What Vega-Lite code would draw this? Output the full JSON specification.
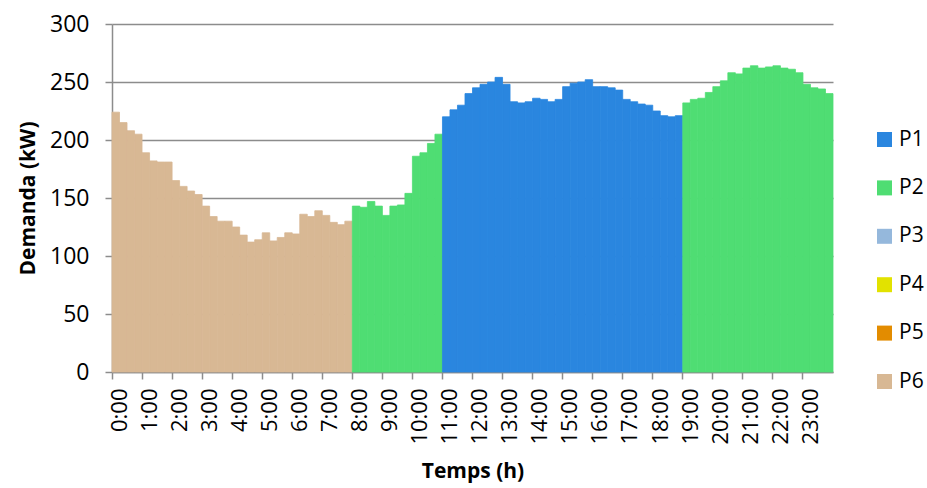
{
  "$schema": "https://vega.github.io/schema/vega-lite/v6.json",
  "autosize": "none",
  "width": 721,
  "height": 348,
  "padding": {"left": 112, "top": 24, "right": 94, "bottom": 116},
  "background": "white",
  "config": {
    "view": {"stroke": null},
    "font": "Open Sans"
  },
  "data": {
    "values": [
      {"t": "0:00", "v": 224, "p": "P6"}, {"t": "0:15", "v": 215, "p": "P6"}, {"t": "0:30", "v": 208, "p": "P6"}, {"t": "0:45", "v": 205, "p": "P6"},
      {"t": "1:00", "v": 189, "p": "P6"}, {"t": "1:15", "v": 182, "p": "P6"}, {"t": "1:30", "v": 181, "p": "P6"}, {"t": "1:45", "v": 181, "p": "P6"},
      {"t": "2:00", "v": 165, "p": "P6"}, {"t": "2:15", "v": 160, "p": "P6"}, {"t": "2:30", "v": 156, "p": "P6"}, {"t": "2:45", "v": 153, "p": "P6"},
      {"t": "3:00", "v": 143, "p": "P6"}, {"t": "3:15", "v": 134, "p": "P6"}, {"t": "3:30", "v": 130, "p": "P6"}, {"t": "3:45", "v": 130, "p": "P6"},
      {"t": "4:00", "v": 125, "p": "P6"}, {"t": "4:15", "v": 118, "p": "P6"}, {"t": "4:30", "v": 112, "p": "P6"}, {"t": "4:45", "v": 114, "p": "P6"},
      {"t": "5:00", "v": 120, "p": "P6"}, {"t": "5:15", "v": 113, "p": "P6"}, {"t": "5:30", "v": 116, "p": "P6"}, {"t": "5:45", "v": 120, "p": "P6"},
      {"t": "6:00", "v": 119, "p": "P6"}, {"t": "6:15", "v": 136, "p": "P6"}, {"t": "6:30", "v": 134, "p": "P6"}, {"t": "6:45", "v": 139, "p": "P6"},
      {"t": "7:00", "v": 135, "p": "P6"}, {"t": "7:15", "v": 129, "p": "P6"}, {"t": "7:30", "v": 127, "p": "P6"}, {"t": "7:45", "v": 130, "p": "P6"},
      {"t": "8:00", "v": 143, "p": "P2"}, {"t": "8:15", "v": 142, "p": "P2"}, {"t": "8:30", "v": 147, "p": "P2"}, {"t": "8:45", "v": 143, "p": "P2"},
      {"t": "9:00", "v": 135, "p": "P2"}, {"t": "9:15", "v": 143, "p": "P2"}, {"t": "9:30", "v": 144, "p": "P2"}, {"t": "9:45", "v": 154, "p": "P2"},
      {"t": "10:00", "v": 186, "p": "P2"}, {"t": "10:15", "v": 189, "p": "P2"}, {"t": "10:30", "v": 197, "p": "P2"}, {"t": "10:45", "v": 205, "p": "P2"},
      {"t": "11:00", "v": 220, "p": "P1"}, {"t": "11:15", "v": 226, "p": "P1"}, {"t": "11:30", "v": 230, "p": "P1"}, {"t": "11:45", "v": 240, "p": "P1"},
      {"t": "12:00", "v": 245, "p": "P1"}, {"t": "12:15", "v": 248, "p": "P1"}, {"t": "12:30", "v": 250, "p": "P1"}, {"t": "12:45", "v": 254, "p": "P1"},
      {"t": "13:00", "v": 248, "p": "P1"}, {"t": "13:15", "v": 233, "p": "P1"}, {"t": "13:30", "v": 232, "p": "P1"}, {"t": "13:45", "v": 233, "p": "P1"},
      {"t": "14:00", "v": 236, "p": "P1"}, {"t": "14:15", "v": 235, "p": "P1"}, {"t": "14:30", "v": 233, "p": "P1"}, {"t": "14:45", "v": 235, "p": "P1"},
      {"t": "15:00", "v": 246, "p": "P1"}, {"t": "15:15", "v": 249, "p": "P1"}, {"t": "15:30", "v": 250, "p": "P1"}, {"t": "15:45", "v": 252, "p": "P1"},
      {"t": "16:00", "v": 246, "p": "P1"}, {"t": "16:15", "v": 246, "p": "P1"}, {"t": "16:30", "v": 245, "p": "P1"}, {"t": "16:45", "v": 243, "p": "P1"},
      {"t": "17:00", "v": 235, "p": "P1"}, {"t": "17:15", "v": 233, "p": "P1"}, {"t": "17:30", "v": 231, "p": "P1"}, {"t": "17:45", "v": 230, "p": "P1"},
      {"t": "18:00", "v": 225, "p": "P1"}, {"t": "18:15", "v": 221, "p": "P1"}, {"t": "18:30", "v": 220, "p": "P1"}, {"t": "18:45", "v": 221, "p": "P1"},
      {"t": "19:00", "v": 232, "p": "P2"}, {"t": "19:15", "v": 235, "p": "P2"}, {"t": "19:30", "v": 236, "p": "P2"}, {"t": "19:45", "v": 241, "p": "P2"},
      {"t": "20:00", "v": 246, "p": "P2"}, {"t": "20:15", "v": 251, "p": "P2"}, {"t": "20:30", "v": 258, "p": "P2"}, {"t": "20:45", "v": 257, "p": "P2"},
      {"t": "21:00", "v": 262, "p": "P2"}, {"t": "21:15", "v": 264, "p": "P2"}, {"t": "21:30", "v": 262, "p": "P2"}, {"t": "21:45", "v": 263, "p": "P2"},
      {"t": "22:00", "v": 264, "p": "P2"}, {"t": "22:15", "v": 262, "p": "P2"}, {"t": "22:30", "v": 261, "p": "P2"}, {"t": "22:45", "v": 258, "p": "P2"},
      {"t": "23:00", "v": 248, "p": "P2"}, {"t": "23:15", "v": 245, "p": "P2"}, {"t": "23:30", "v": 244, "p": "P2"}, {"t": "23:45", "v": 240, "p": "P2"}
    ]
  },
  "mark": {"type": "bar", "strokeWidth": 0.8},
  "encoding": {
    "x": {
      "field": "t",
      "type": "ordinal",
      "sort": null,
      "scale": {"paddingInner": 0, "paddingOuter": 0},
      "axis": {
        "title": "Temps (h)",
        "titleFont": "Open Sans",
        "titleFontSize": 21,
        "titleFontWeight": "bold",
        "titleColor": "black",
        "titlePadding": 16,
        "values": ["0:00","1:00","2:00","3:00","4:00","5:00","6:00","7:00","8:00","9:00","10:00","11:00","12:00","13:00","14:00","15:00","16:00","17:00","18:00","19:00","20:00","21:00","22:00","23:00"],
        "bandPosition": 0,
        "labelOffset": 4,
        "labelAngle": 270,
        "labelFontSize": 22,
        "labelColor": "black",
        "labelPadding": 9,
        "tickSize": 7,
        "tickColor": "#8c8c8c",
        "tickWidth": 1.5,
        "domainColor": "#8c8c8c",
        "domainWidth": 1.5,
        "grid": false
      }
    },
    "y": {
      "field": "v",
      "type": "quantitative",
      "scale": {"domain": [0, 300]},
      "axis": {
        "title": "Demanda (kW)",
        "titleFont": "Open Sans",
        "titleFontSize": 21,
        "titleFontWeight": "bold",
        "titleColor": "black",
        "titlePadding": 11,
        "values": [0, 50, 100, 150, 200, 250, 300],
        "labelFontSize": 23,
        "labelColor": "black",
        "labelPadding": 16,
        "tickSize": 7,
        "tickColor": "#8c8c8c",
        "tickWidth": 1.5,
        "domainColor": "#8c8c8c",
        "domainWidth": 1.5,
        "grid": true,
        "gridColor": "#8c8c8c",
        "gridWidth": 1.5
      }
    },
    "color": {
      "field": "p",
      "type": "nominal",
      "scale": {
        "domain": ["P1", "P2", "P3", "P4", "P5", "P6"],
        "range": ["#2a86df", "#4fdd73", "#95b8dc", "#e2e200", "#e38c00", "#d8b894"]
      },
      "legend": {
        "title": null,
        "orient": "none",
        "legendX": 762,
        "legendY": 105,
        "symbolType": "square",
        "symbolSize": 225,
        "symbolStrokeWidth": 0,
        "symbolOpacity": 1,
        "labelFontSize": 21,
        "labelColor": "black",
        "labelOffset": 4,
        "rowPadding": 26.4,
        "values": ["P1", "P2", "P3", "P4", "P5", "P6"]
      }
    },
    "stroke": {
      "field": "p",
      "type": "nominal",
      "scale": {
        "domain": ["P1", "P2", "P3", "P4", "P5", "P6"],
        "range": ["#2a86df", "#4fdd73", "#95b8dc", "#e2e200", "#e38c00", "#d8b894"]
      },
      "legend": null
    }
  }
}
